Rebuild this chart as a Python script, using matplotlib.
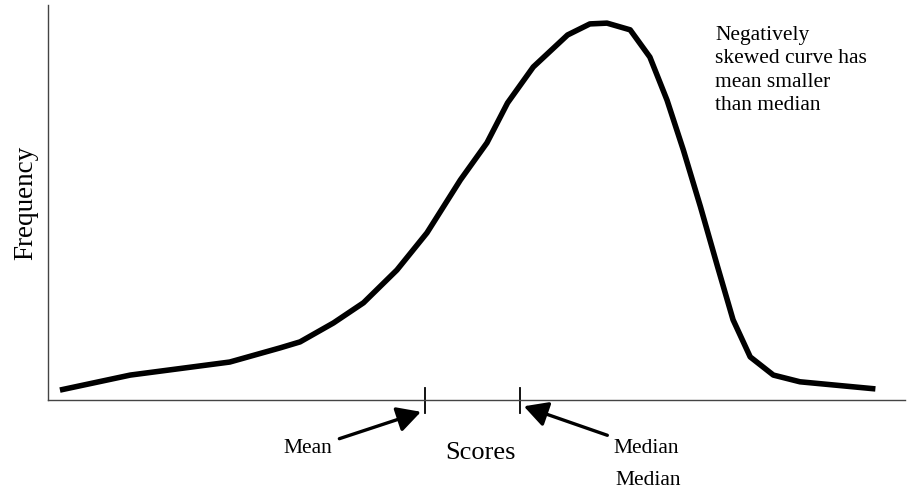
import matplotlib.pyplot as plt

# curve (scores 0-100, frequency 0-100)
scores = [1.4, 9.6, 21.2, 27.1, 29.4, 33.3, 36.8, 40.7, 44.2, 48.1, 51.2, 53.6,
          56.6, 60.6, 63.2, 65.2, 67.9, 70.2, 72.2, 74.1, 76.1, 78.1, 79.9,
          81.9, 84.6, 87.7, 91.6, 96.5]
freq = [2.5, 6.3, 9.6, 13.2, 14.7, 19.5, 24.6, 32.9, 42.3, 55.7, 65.1, 75.2,
        84.3, 92.4, 95.2, 95.4, 93.7, 86.8, 75.9, 63.3, 48.9, 33.7, 20.3,
        10.9, 6.3, 4.6, 3.8, 2.8]
mean_x = 44.0
median_x = 55.0

plt.rcParams['font.family'] = ['Liberation Serif', 'DejaVu Serif']

fig = plt.figure(figsize=(9.22, 4.95), dpi=100)
ax = fig.add_axes([0.052, 0.192, 0.93, 0.798])
ax.set_xlim(0, 100)
ax.set_ylim(0, 100)

ax.plot(scores, freq, color='black', lw=4.0, solid_capstyle='butt', solid_joinstyle='round')

for s in ['top', 'right']:
    ax.spines[s].set_visible(False)
for s in ['left', 'bottom']:
    ax.spines[s].set_color('#444444')
    ax.spines[s].set_linewidth(1.0)
ax.set_xticks([])
ax.set_yticks([])
ax.set_ylabel('Frequency', fontsize=19.5, labelpad=7)

# mean / median marks crossing the axis
for xv in [mean_x, median_x]:
    ax.plot([xv, xv], [3, -3.2], color='black', lw=1.3, clip_on=False)

arrow = dict(arrowstyle='-|>,head_length=0.65,head_width=0.35', color='black', lw=2.4,
             mutation_scale=22, shrinkA=3, shrinkB=0)
ax.annotate('Mean', xy=(mean_x - 0.5, -3.0), xytext=(33.2, -12.4),
            fontsize=15.5, ha='right', va='center', annotation_clip=False,
            arrowprops=arrow)
ax.annotate('Median', xy=(median_x + 0.5, -1.6), xytext=(66.0, -12.4),
            fontsize=15.5, ha='left', va='center', annotation_clip=False,
            arrowprops=arrow)
ax.text(66.2, -20.3, 'Median', fontsize=15.5, ha='left', va='center', clip_on=False)
ax.text(50.4, -13.4, 'Scores', fontsize=19, ha='center', va='center', clip_on=False)

ax.text(77.8, 94.6, 'Negatively\nskewed curve has\nmean smaller\nthan median',
        fontsize=15.5, ha='left', va='top', linespacing=1.3)

fig.savefig('out.png', dpi=100)
